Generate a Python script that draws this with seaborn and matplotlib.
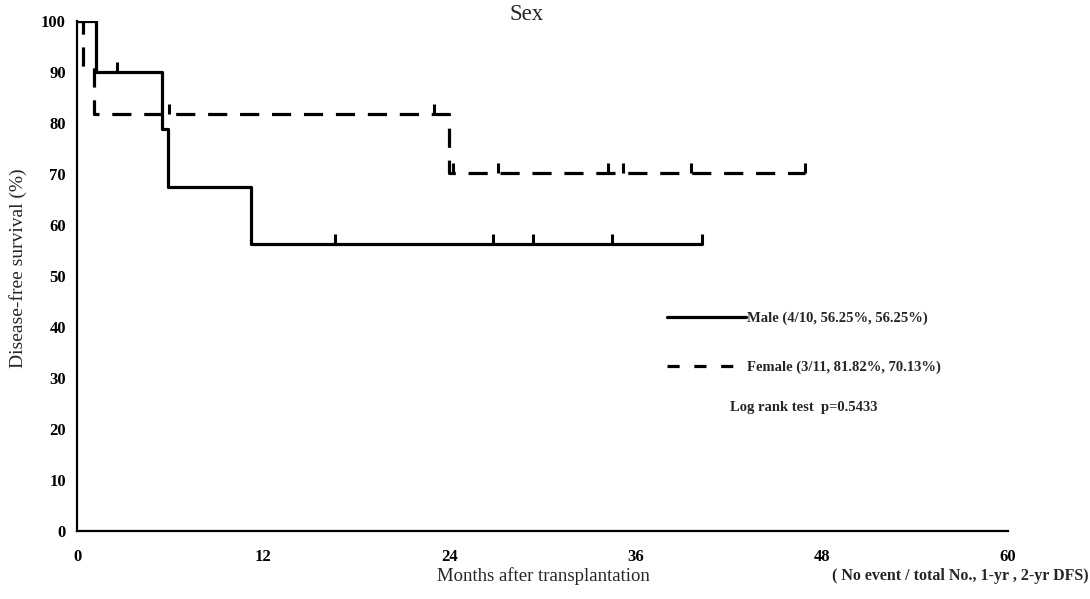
import numpy as np
import pandas as pd
import matplotlib
matplotlib.use("Agg")
import matplotlib.pyplot as plt
import seaborn as sns
from matplotlib.path import Path
from matplotlib.lines import Line2D

# Follow-up in months and outcome (1 = relapse/death, 0 = censored)
male_months = [1.2, 2.6, 5.5, 5.85, 11.2, 16.6, 26.8, 29.4, 34.5, 40.3]
male_events = [1, 0, 1, 1, 1, 0, 0, 0, 0, 0]
female_months = [0.4, 1.1, 5.9, 23.0, 24.0, 24.2, 27.1, 34.2, 35.2, 39.6, 46.9]
female_events = [1, 1, 0, 0, 1, 0, 0, 0, 0, 0, 0]

groups = ["Male", "Female"]
legend_labels = ["Male (4/10, 56.25%, 56.25%)", "Female (3/11, 81.82%, 70.13%)"]
x_ticks = [0, 12, 24, 36, 48, 60]
y_ticks = list(range(0, 101, 10))
title = "Sex"
x_label = "Months after transplantation"
y_label = "Disease-free survival (%)"
note = "( No event / total No., 1-yr , 2-yr DFS)"
test_text = "Log rank test  p=0.5433"


def kaplan_meier(months, events):
    """Product-limit estimate (in %) plus the positions of censored cases."""
    t = np.asarray(months, float)
    e = np.asarray(events)
    order = np.argsort(t, kind="stable")
    t, e = t[order], e[order]
    n = len(t)
    s = 100.0
    step_t, step_s = [0.0], [100.0]
    cens_t, cens_s = [], []
    for i, (ti, ei) in enumerate(zip(t, e)):
        at_risk = n - i
        if ei:
            s *= (at_risk - 1) / at_risk
            step_t.append(ti)
            step_s.append(s)
        else:
            cens_t.append(ti)
            cens_s.append(s)
    step_t.append(t[-1])
    step_s.append(s)
    return step_t, step_s, cens_t, cens_s


curves, censored = [], []
for g, m, e in zip(groups, [male_months, female_months], [male_events, female_events]):
    st, ss, ct, cs = kaplan_meier(m, e)
    curves.append(pd.DataFrame({"month": st, "survival": ss, "group": g}))
    censored.append(pd.DataFrame({"month": ct, "survival": cs, "group": g}))
curves = pd.concat(curves, ignore_index=True)
censored = pd.concat(censored, ignore_index=True)

sns.set_style("white")
plt.rcParams["font.family"] = ["Liberation Serif", "DejaVu Serif"]

W, H = 1090, 599
fig = plt.figure(figsize=(W / 100, H / 100), dpi=100)
ax = fig.add_axes([77 / W, 1 - 531 / H, (1008 - 77) / W, (531 - 21) / H])

lw = 2.3
sns.lineplot(
    data=curves, x="month", y="survival", hue="group", style="group",
    palette={"Male": "black", "Female": "black"},
    dashes={"Male": "", "Female": (6, 4)},
    drawstyle="steps-post", estimator=None, sort=False,
    linewidth=lw, legend=False, ax=ax,
)

# censored cases: short upward ticks sitting on the curve
tick_up = Path([(0, 0), (0, 1)], [Path.MOVETO, Path.LINETO])
sns.scatterplot(
    data=censored, x="month", y="survival", marker=tick_up, s=220,
    color="black", edgecolor="black", linewidth=2.2, legend=False, ax=ax,
)

ax.set_xlim(0, 60)
ax.set_ylim(0, 100)
ax.set_xticks(x_ticks)
ax.set_yticks(y_ticks)
ax.set_xlabel("")
ax.set_ylabel("")
for side in ["top", "right"]:
    ax.spines[side].set_visible(False)
for side in ["left", "bottom"]:
    ax.spines[side].set_linewidth(1.6)
    ax.spines[side].set_color("black")
ax.tick_params(axis="both", direction="in", length=4, width=1.3, colors="black",
               labelsize=12)
ax.tick_params(axis="x", pad=13)
ax.tick_params(axis="y", pad=8)
for lab in ax.get_xticklabels() + ax.get_yticklabels():
    lab.set_fontweight("bold")

handles = [
    Line2D([], [], color="black", lw=lw),
    Line2D([], [], color="black", lw=lw, ls=(0, (3.8, 4.6))),
]
fig.legend(
    handles=handles, labels=legend_labels, loc="upper left",
    bbox_to_anchor=(667 / W, 1 - 312 / H), frameon=False,
    prop={"family": "Liberation Serif", "size": 10.5, "weight": "bold"},
    handlelength=5.4, handletextpad=0.1, labelspacing=2.4,
    borderpad=0, borderaxespad=0,
)
fig.text(730 / W, 1 - 408 / H, test_text, ha="left", va="center",
         fontsize=10.5, fontweight="bold")

fig.text(527 / W, 1 - 15 / H, title, ha="center", va="center", fontsize=16.5)
fig.text(543 / W, 1 - 576 / H, x_label, ha="center", va="center", fontsize=13.5)
fig.text(832 / W, 1 - 576 / H, note, ha="left", va="center", fontsize=11.5,
         fontweight="bold")
fig.text(18 / W, 1 - 268 / H, y_label, ha="center", va="center",
         rotation=90, fontsize=14)

fig.savefig("out.png", dpi=100)
